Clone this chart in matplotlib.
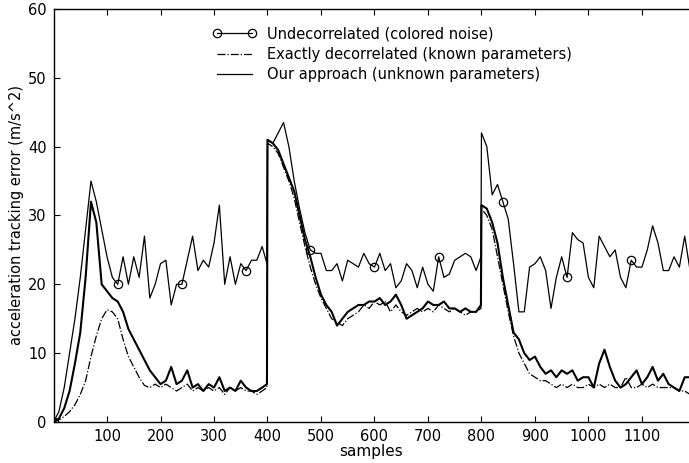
import matplotlib.pyplot as plt
import numpy as np

plt.rcParams['font.family'] = ['DejaVu Sans']

# sample positions (10-sample steps, plus the point right before each jump)
samples = np.r_[np.arange(0, 400, 10), 399, np.arange(400, 800, 10), 799, np.arange(800, 1191, 10)]

undecorrelated = [
    0, 1.5, 5, 10, 15, 21, 28, 35, 32, 28, 24, 21, 20, 24, 20, 24, 21, 27, 18, 20,
    23, 23.5, 17, 20, 20, 23.5, 27, 22, 23.5, 22.5, 26, 31.5, 20, 24, 20, 23, 22, 23.5, 23.5, 25.5, 23,
    41, 40.5, 42, 43.5, 40, 35, 31, 27.5, 25, 24.5, 24.5, 22, 22, 23, 20.5, 23.5, 23, 22.5, 24.5, 23,
    22.5, 24.5, 22, 23, 19.5, 20.5, 23, 22, 19.5, 22.5, 20, 19, 24, 21, 21.5, 23.5, 24, 24.5, 24, 22, 24,
    42, 40, 33, 34.5, 32, 29.5, 23, 16, 16, 22.5, 23, 24, 22, 16.5, 21, 24, 21, 27.5, 26.5, 26,
    21, 19.5, 27, 25.5, 24, 25, 21, 19.5, 23.5, 22.5, 22.5, 25, 28.5, 26, 22, 22, 24, 22.5, 27, 22,
]

exactly_decorrelated = [
    0, 0.3, 0.8, 1.5, 2.5, 4, 6, 9.5, 12.5, 15, 16.3, 16, 15, 12, 9.5, 8, 6.5, 5.3, 5, 5.5,
    5, 5.5, 5, 4.5, 5, 5.5, 4.5, 5, 4.5, 5, 4.5, 5, 4, 5, 4.5, 5, 4.5, 4.5, 4, 4.5, 5,
    40.5, 40, 39, 37, 35, 32.5, 29, 25.5, 22.5, 20, 18, 16.5, 15, 14.5, 14, 15, 15.5, 16, 17, 16.5,
    17.5, 17, 17.5, 16, 17, 16, 15.5, 16, 16.5, 16, 16.5, 16, 17, 16.5, 16, 16.5, 16, 15.5, 16, 16, 16.5,
    31, 30, 28, 24, 20, 16, 12.5, 10, 8.5, 7, 6.5, 6, 6, 5.5, 5, 5.5, 5, 5.5, 5, 5,
    5.5, 5, 5.5, 5, 5.5, 5, 5, 6.5, 5, 5, 5.5, 5, 5.5, 5, 5, 5, 5, 4.5, 4.5, 4,
]

our_approach = [
    0, 0.5, 2, 4.5, 8.5, 13, 21, 32, 29, 20, 19, 18, 17.5, 16, 13.5, 12, 10.5, 9, 7.5, 6.5,
    5.5, 6, 8, 5.5, 6, 7.5, 5, 5.5, 4.5, 5.5, 5, 6.5, 4.5, 5, 4.5, 6, 5, 4.5, 4.5, 5, 5.5,
    41, 40.5, 39.5, 37.5, 35.5, 33.5, 30, 26.5, 24, 21, 18.5, 17, 16, 14, 15, 16, 16.5, 17, 17, 17.5,
    17.5, 18, 17, 17.5, 18.5, 17, 15, 15.5, 16, 16.5, 17.5, 17, 17, 17.5, 16.5, 16.5, 16, 16.5, 16, 16, 17,
    31.5, 31, 29, 26, 21, 17, 13, 12, 10, 9, 9.5, 8, 7, 7.5, 6.5, 7.5, 7, 7.5, 6, 6.5,
    6.5, 5, 8.5, 10.5, 8, 6, 5, 5.5, 6.5, 7.5, 5.5, 6.5, 8, 6, 7, 5.5, 5, 4.5, 6.5, 6.5,
]

x_ticks = [100, 200, 300, 400, 500, 600, 700, 800, 900, 1000, 1100]
y_ticks = [0, 10, 20, 30, 40, 50, 60]

fig = plt.figure(figsize=(6.89, 4.63), dpi=100)
ax = fig.add_axes([0.0777, 0.0886, 0.9223, 0.892])

# circles every 120 samples on the undecorrelated curve
mark_idx = [i for i, s in enumerate(samples) if s % 120 == 0]

ax.plot(samples, undecorrelated, color='black', lw=0.9, marker='o', markevery=mark_idx,
        markersize=6, markerfacecolor='none', markeredgewidth=0.9,
        label='Undecorrelated (colored noise)')
ax.plot(samples, exactly_decorrelated, color='black', lw=0.9, linestyle='-.',
        label='Exactly decorrelated (known parameters)')
ax.plot(samples, our_approach, color='black', lw=1.5,
        label='Our approach (unknown parameters)')

ax.set_xlim(0, 1188)
ax.set_ylim(0, 60)
ax.set_xticks(x_ticks)
ax.set_yticks(y_ticks)
ax.tick_params(direction='in', length=4, labelsize=10.5, top=True, pad=5)
ax.spines['right'].set_visible(False)
for s in ['left', 'bottom', 'top']:
    ax.spines[s].set_linewidth(1.0)

ax.set_xlabel('samples', fontsize=11, labelpad=0)
ax.set_ylabel('acceleration tracking error (m/s^2)', fontsize=10.5, labelpad=3)

leg = ax.legend(loc='upper left', bbox_to_anchor=(0.23, 0.99), frameon=False, fontsize=10.5,
                numpoints=2, handlelength=3.0, handletextpad=0.7, labelspacing=0.38)
for h in leg.get_lines():
    h.set_linewidth(0.9)

fig.savefig('out.png', dpi=100)
